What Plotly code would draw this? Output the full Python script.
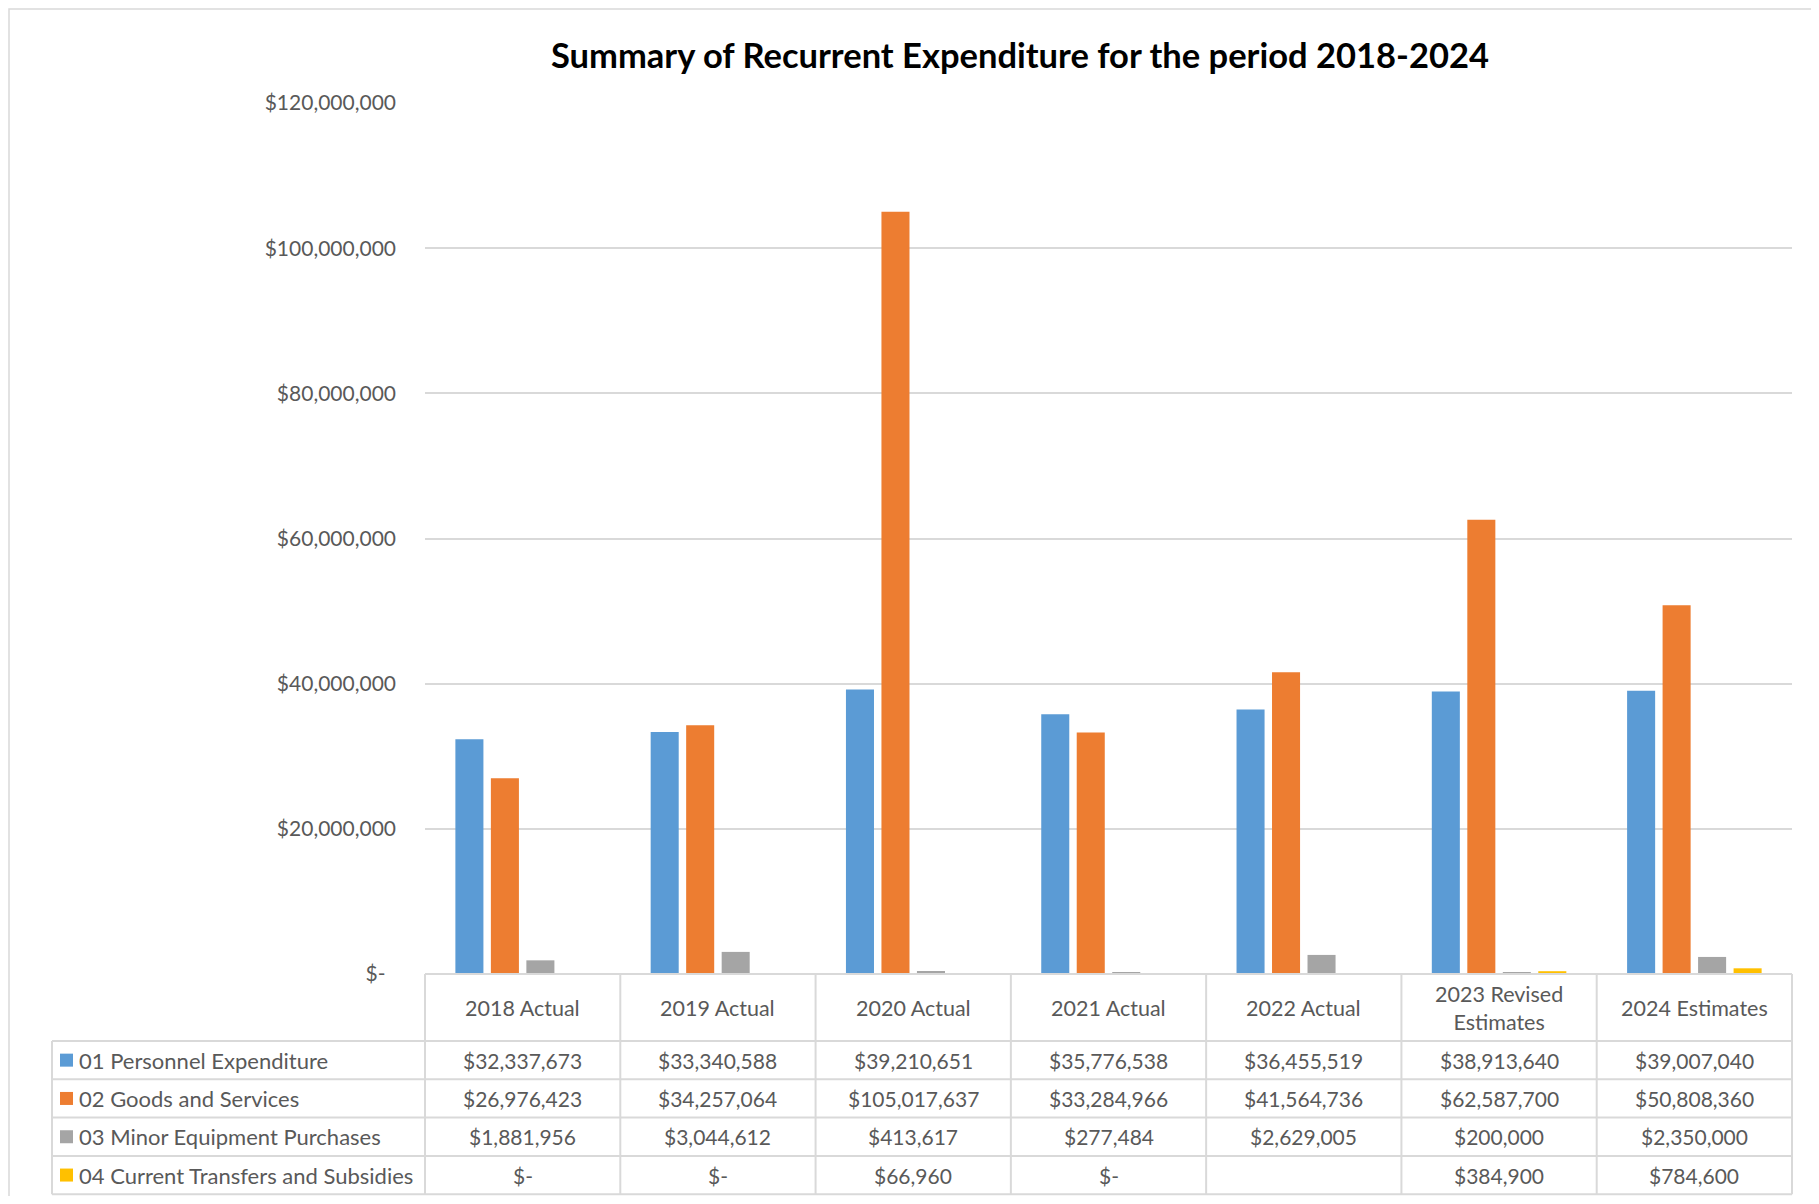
import plotly.graph_objects as go

# ---------------- data ----------------
categories = ["2018 Actual", "2019 Actual", "2020 Actual", "2021 Actual",
              "2022 Actual", "2023 Revised Estimates", "2024 Estimates"]
header_labels = ["2018 Actual", "2019 Actual", "2020 Actual", "2021 Actual",
                 "2022 Actual", "2023 Revised<br>Estimates", "2024 Estimates"]
series_names = ["01 Personnel Expenditure", "02 Goods and Services",
                "03 Minor Equipment Purchases", "04 Current Transfers and Subsidies"]
personnel = [32337673, 33340588, 39210651, 35776538, 36455519, 38913640, 39007040]
goods = [26976423, 34257064, 105017637, 33284966, 41564736, 62587700, 50808360]
equipment = [1881956, 3044612, 413617, 277484, 2629005, 200000, 2350000]
transfers = [0, 0, 66960, 0, None, 384900, 784600]
series_values = [personnel, goods, equipment, transfers]
series_colors = ["#5B9BD5", "#ED7D31", "#A5A5A5", "#FFC000"]
y_tick_values = [0, 20000000, 40000000, 60000000, 80000000, 100000000, 120000000]
y_tick_labels = ["$-\u2002", "$20,000,000", "$40,000,000", "$60,000,000",
                 "$80,000,000", "$100,000,000", "$120,000,000"]
title_text = "Summary of Recurrent Expenditure for the period 2018-2024"

# ---------------- geometry (page pixels) ----------------
W, H = 1819, 1204
OFF = 8                      # default body margin of the html page
L, R, T, B = 425, 1792, 103, 974
LEG_LEFT = 52
HEADER_H = 67
ROW_H = 38.3
GRID = "#d9d9d9"
TXT = "#595959"
FONT = "Lato, 'Open Sans', sans-serif"


def px_x(px):
    return (px - L) / (R - L)


def px_y(py):
    return (B - py) / (B - T)


def fmt(v):
    if v is None:
        return ""
    if v == 0:
        return "$-"
    return "${:,.0f}".format(v)


fig = go.Figure()
for name, vals, col in zip(series_names, series_values, series_colors):
    fig.add_trace(go.Bar(x=categories, y=vals, name=name, marker_color=col,
                         marker_line_width=0, showlegend=False))

n = len(categories)
cw = (R - L) / n
shapes = []
annotations = []

# table lines
line = dict(color=GRID, width=2)
shapes.append(dict(type="line", xref="paper", yref="paper",
                   x0=px_x(L), x1=px_x(R), y0=px_y(B), y1=px_y(B), line=line))
row_tops = [B + HEADER_H + i * ROW_H for i in range(len(series_names) + 1)]
for yy in row_tops:
    shapes.append(dict(type="line", xref="paper", yref="paper",
                       x0=px_x(LEG_LEFT), x1=px_x(R), y0=px_y(yy), y1=px_y(yy), line=line))
bottom = row_tops[-1]
shapes.append(dict(type="line", xref="paper", yref="paper",
                   x0=px_x(LEG_LEFT), x1=px_x(LEG_LEFT), y0=px_y(row_tops[0]), y1=px_y(bottom), line=line))
for k in range(n + 1):
    xx = L + k * cw
    shapes.append(dict(type="line", xref="paper", yref="paper",
                       x0=px_x(xx), x1=px_x(xx), y0=px_y(B), y1=px_y(bottom), line=line))

# outer chart border
shapes.append(dict(type="rect", xref="paper", yref="paper",
                   x0=px_x(OFF + 1), x1=px_x(W + 20), y0=px_y(OFF + 1), y1=px_y(H + 20),
                   line=dict(color=GRID, width=1.5), layer="below"))

# header text
for k, lab in enumerate(header_labels):
    annotations.append(dict(xref="paper", yref="paper", x=px_x(L + (k + 0.5) * cw),
                            y=px_y(B + HEADER_H / 2), text=lab, showarrow=False,
                            font=dict(family=FONT, size=21.5, color=TXT),
                            xanchor="center", yanchor="middle"))

# rows
for i, (name, vals, col) in enumerate(zip(series_names, series_values, series_colors)):
    yc = row_tops[i] + ROW_H / 2
    shapes.append(dict(type="rect", xref="paper", yref="paper",
                       x0=px_x(60), x1=px_x(73), y0=px_y(yc - 6.5), y1=px_y(yc + 6.5),
                       fillcolor=col, line=dict(width=0)))
    annotations.append(dict(xref="paper", yref="paper", x=px_x(77), y=px_y(yc),
                            text=name, showarrow=False, xanchor="left", yanchor="middle",
                            font=dict(family=FONT, size=22, color=TXT)))
    for k, v in enumerate(vals):
        annotations.append(dict(xref="paper", yref="paper", x=px_x(L + (k + 0.5) * cw),
                                y=px_y(yc), text=fmt(v), showarrow=False,
                                xanchor="center", yanchor="middle",
                                font=dict(family=FONT, size=21, color=TXT)))

# title
annotations.append(dict(xref="paper", yref="paper", x=px_x(1020), y=px_y(55),
                        text="<b>" + title_text + "</b>", showarrow=False,
                        xanchor="center", yanchor="middle",
                        font=dict(family=FONT, size=34.5, color="#000000")))

fig.update_layout(
    width=W - 2 * OFF, height=H - 2 * OFF,
    margin=dict(l=L - OFF, r=(W - 2 * OFF) - (R - OFF), t=T - OFF,
                b=(H - 2 * OFF) - (B - OFF), autoexpand=False),
    paper_bgcolor="white", plot_bgcolor="white",
    barmode="group", bargap=0.273, bargroupgap=0.21,
    shapes=shapes, annotations=annotations,
    font=dict(family=FONT, color=TXT),
    xaxis=dict(range=[-0.5, n - 0.5], showticklabels=False, showgrid=False,
               zeroline=False, showline=False, ticks=""),
    yaxis=dict(range=[0, 120000000], tickvals=y_tick_values, ticktext=y_tick_labels,
               showgrid=True, gridcolor=GRID, gridwidth=1.5, zeroline=False,
               showline=False, ticks="", ticklabelstandoff=28,
               tickfont=dict(family=FONT, size=21, color=TXT)),
)

fig.write_html("out.html")
